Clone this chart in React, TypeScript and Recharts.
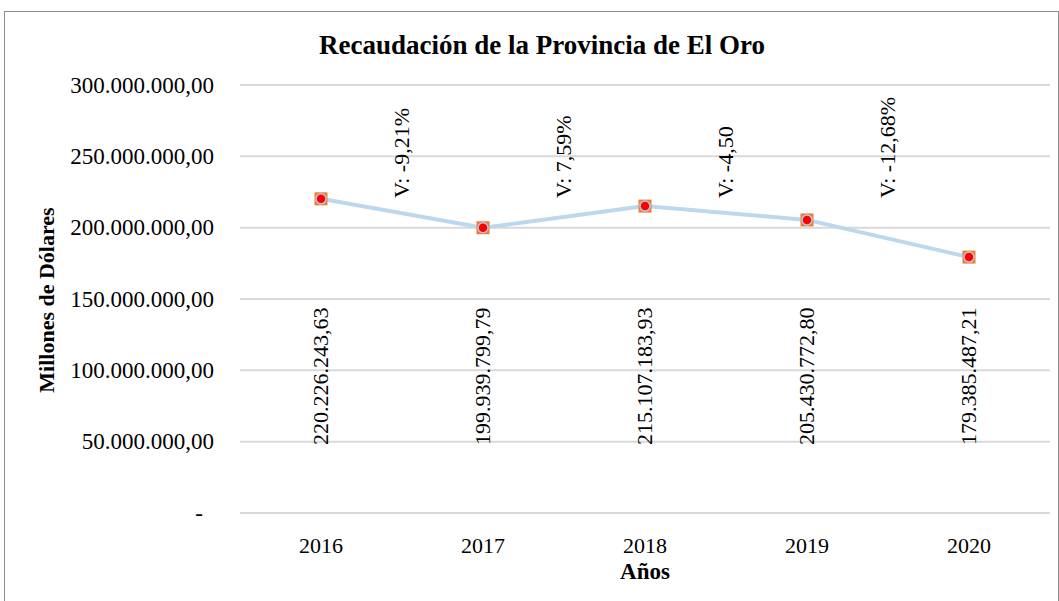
import React from 'react';
import { CartesianGrid, LabelList, Line, LineChart, XAxis, YAxis } from 'recharts';

const anios = ['2016', '2017', '2018', '2019', '2020'];
const recaudacion = [220226243.63, 199939799.79, 215107183.93, 205430772.8, 179385487.21];
const variaciones = ['V: -9,21%', 'V: 7,59%', 'V: -4,50', 'V: -12,68%', ''];
const yTicks = [0, 50000000, 100000000, 150000000, 200000000, 250000000, 300000000];

const data = anios.map((anio, i) => ({
  anio,
  recaudacion: recaudacion[i],
  variacion: variaciones[i],
}));

const W = 1059;
const H = 601;
const PLOT_LEFT = 240;
const PLOT_RIGHT = 1050;
const STEP = (PLOT_RIGHT - PLOT_LEFT) / anios.length;
const FONT = '"Liberation Serif", "Times New Roman", serif';

// 300000000 -> "300.000.000,00"
function formatMonto(v: number) {
  const [ent, dec] = v.toFixed(2).split('.');
  return ent.replace(/\B(?=(\d{3})+(?!\d))/g, '.') + ',' + dec;
}

function YTick({ x, y, payload }: any) {
  const cero = payload.value === 0;
  return (
    <text
      x={cero ? x - 11 : x}
      y={y}
      textAnchor="end"
      dominantBaseline="central"
      style={{ fontFamily: FONT }}
      fontSize={23}
      fill="#000"
    >
      {cero ? '-' : formatMonto(payload.value)}
    </text>
  );
}

function XTick({ x, y, payload }: any) {
  return (
    <text x={x} y={y} textAnchor="middle" dominantBaseline="central" style={{ fontFamily: FONT }} fontSize={22} fill="#000">
      {payload.value}
    </text>
  );
}

function Marcador({ cx, cy, index }: any) {
  return (
    <g key={`m-${index}`}>
      <rect x={cx - 6.5} y={cy - 6.5} width={13} height={13} fill="#ed7d31" />
      <circle cx={cx} cy={cy} r={5} fill="#ff0000" stroke="#b4c7e7" strokeWidth={1.5} />
    </g>
  );
}

function EtiquetaMonto({ x, value }: any) {
  return (
    <text
      transform={`translate(${x + 7}, 445) rotate(-90)`}
      textAnchor="start"
      style={{ fontFamily: FONT }}
      fontSize={22}
      fill="#000"
    >
      {formatMonto(value)}
    </text>
  );
}

function EtiquetaVariacion({ x, value }: any) {
  if (!value) return null;
  return (
    <text
      transform={`translate(${x + STEP / 2 + 7}, 198) rotate(-90)`}
      textAnchor="start"
      style={{ fontFamily: FONT }}
      fontSize={22}
      fill="#000"
    >
      {value}
    </text>
  );
}

export default function App() {
  return (
    <div style={{ position: 'absolute', left: 0, top: 0, width: W, height: H, overflow: 'hidden', background: '#fff' }}>
      <div
        style={{
          position: 'absolute',
          left: 4,
          top: 11,
          width: 1053,
          height: 620,
          borderTop: '1.5px solid #8c8c8c',
          borderLeft: '1.5px solid #8c8c8c',
          borderRight: '1.5px solid #8c8c8c',
        }}
      />
      <div
        style={{
          position: 'absolute',
          left: 0,
          width: 1084,
          top: 28,
          textAlign: 'center',
          fontFamily: FONT,
          fontWeight: 'bold',
          fontSize: 27,
          lineHeight: '34px',
        }}
      >
        Recaudación de la Provincia de El Oro
      </div>
      <div
        style={{
          position: 'absolute',
          left: 47,
          top: 300,
          transform: 'translate(-50%, -50%) rotate(-90deg)',
          whiteSpace: 'nowrap',
          fontFamily: FONT,
          fontWeight: 'bold',
          fontSize: 22,
        }}
      >
        Millones de Dólares
      </div>
      <div
        style={{
          position: 'absolute',
          left: 0,
          width: 1290,
          top: 558,
          textAlign: 'center',
          fontFamily: FONT,
          fontWeight: 'bold',
          fontSize: 23,
          lineHeight: '28px',
        }}
      >
        Años
      </div>
      <div style={{ position: 'absolute', left: 0, top: 0 }}>
        <LineChart width={W} height={H} data={data} margin={{ top: 85, right: W - PLOT_RIGHT, bottom: 0, left: 0 }}>
          <CartesianGrid horizontal vertical={false} stroke="#d9d9d9" strokeWidth={2} />
          <XAxis
            dataKey="anio"
            height={88}
            axisLine={false}
            tickLine={false}
            tickSize={0}
            tickMargin={32}
            tick={<XTick />}
            interval={0}
            padding={{ left: STEP / 2, right: STEP / 2 }}
          />
          <YAxis
            width={PLOT_LEFT}
            domain={[0, 300000000]}
            ticks={yTicks}
            axisLine={false}
            tickLine={false}
            tickSize={0}
            tickMargin={26}
            tick={<YTick />}
            interval={0}
          />
          <Line
            type="linear"
            dataKey="recaudacion"
            stroke="#bdd7ee"
            strokeWidth={4}
            dot={<Marcador />}
            activeDot={false}
            isAnimationActive={false}
          >
            <LabelList dataKey="recaudacion" content={<EtiquetaMonto />} />
            <LabelList dataKey="variacion" content={<EtiquetaVariacion />} />
          </Line>
        </LineChart>
      </div>
    </div>
  );
}
